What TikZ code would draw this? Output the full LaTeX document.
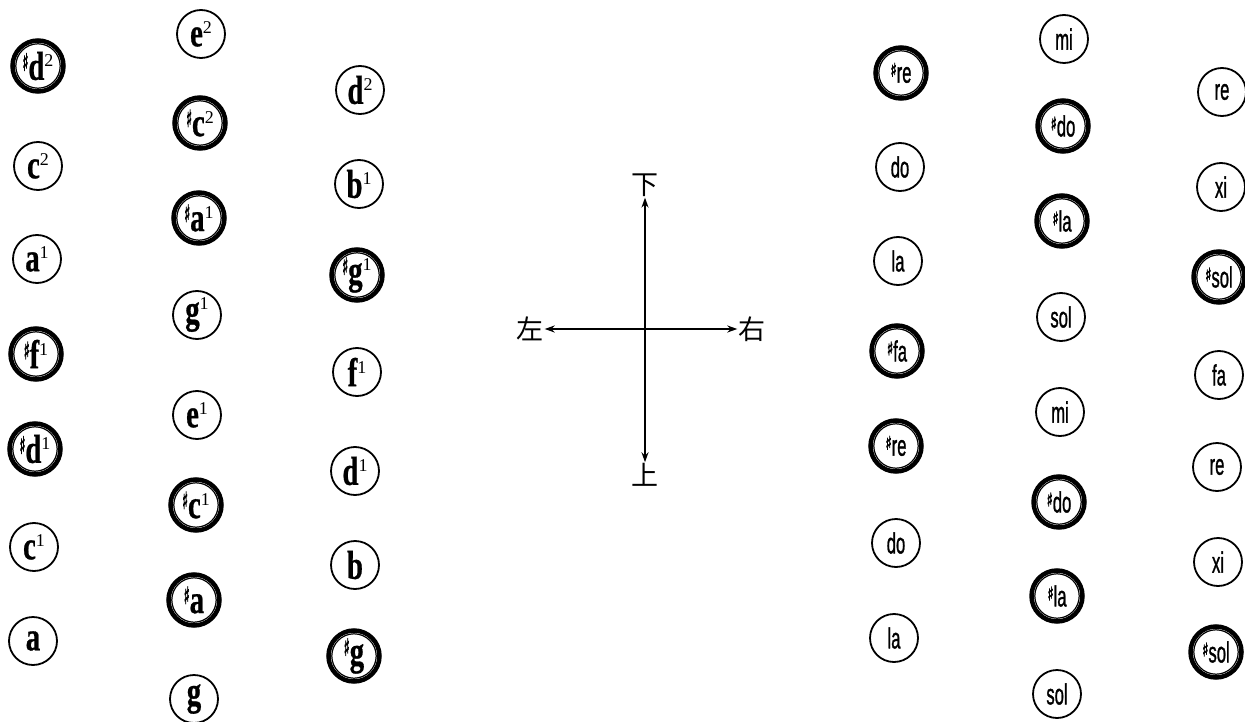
\documentclass[tikz,border=0pt]{standalone}
\usepackage{fontspec}
\setmainfont{Liberation Serif}
\newfontfamily\heavyserif{Liberation Serif}[FakeBold=0.8]
\newfontfamily\sansc{Liberation Sans}[FakeBold=1.4]
\newfontfamily\cjk{Noto Sans CJK SC}
\newfontfamily\symf{DejaVu Sans}[FakeBold=3]
\usetikzlibrary{arrows.meta}

\newcommand\octv[1]{\raisebox{13pt}{\fontsize{18}{18}\selectfont #1}}
\newcommand\lshp{\raisebox{9pt}{\scalebox{0.6}[1.2]{\symf\bfseries\fontsize{20}{20}\selectfont ♯}}}
\newcommand\lettL[1]{\scalebox{0.8}[1.12]{\heavyserif\bfseries\fontsize{36}{36}\selectfont #1}}
\newcommand\syllR[1]{\scalebox{0.64}[1.12]{\sansc\fontsize{26}{26}\selectfont #1}}
\newcommand\rshp{\raisebox{6pt}{\scalebox{0.75}[1.1]{\symf\bfseries\fontsize{17}{17}\selectfont ♯}}}

\tikzset{
  pnote/.style={circle, draw, line width=1.8pt, minimum size=48pt, inner sep=0pt},
  snote/.style={circle, draw, line width=4.5pt, minimum size=51pt, inner sep=0pt},
  sring/.style={line width=1.2pt},
  dirlab/.style={inner sep=1pt, font=\cjk\fontsize{27}{27}\selectfont},
  dirarrow/.style={line width=1.8pt, {Stealth[length=10pt,width=7pt]}-{Stealth[length=10pt,width=7pt]}}
}
\newcommand\snode[3]{\node[snote] (#1) at (#2) {#3}; \draw[sring] (#1.center) circle[radius=22.2pt];}

\begin{document}
\begin{tikzpicture}[x=1pt,y=-1pt]
\useasboundingbox (0,0) rectangle (1245,722);

% left group, column 1
\snode{Ld2s}{38,66}{\lshp\lettL{d}\octv{2}}
\node[pnote] (Lc2) at (38,166) {\lettL{c}\octv{2}};
\node[pnote] (La1) at (37,259) {\lettL{a}\octv{1}};
\snode{Lf1s}{36,354}{\lshp\lettL{f}\octv{1}}
\snode{Ld1s}{35,449}{\lshp\lettL{d}\octv{1}}
\node[pnote] (Lc1) at (34,547) {\lettL{c}\octv{1}};
\node[pnote] (La) at (33,641) {\lettL{a}};

% left group, column 2
\node[pnote] (Le2) at (201,34) {\lettL{e}\octv{2}};
\snode{Lc2s}{200,123}{\lshp\lettL{c}\octv{2}}
\snode{La1s}{199,218}{\lshp\lettL{a}\octv{1}}
\node[pnote] (Lg1) at (197,315) {\lettL{g}\octv{1}};
\node[pnote] (Le1) at (197,415) {\lettL{e}\octv{1}};
\snode{Lc1s}{196,505}{\lshp\lettL{c}\octv{1}}
\snode{Las}{194,600}{\lshp\lettL{a}}
\node[pnote] (Lg) at (194,699) {\lettL{g}};

% left group, column 3
\node[pnote] (Ld2) at (360,90) {\lettL{d}\octv{2}};
\node[pnote] (Lb1) at (359,184) {\lettL{b}\octv{1}};
\snode{Lg1s}{357,275}{\lshp\lettL{g}\octv{1}}
\node[pnote] (Lf1) at (357,372) {\lettL{f}\octv{1}};
\node[pnote] (Ld1) at (355,471) {\lettL{d}\octv{1}};
\node[pnote] (Lb) at (355,565) {\lettL{b}};
\snode{Lgs}{354,656}{\lshp\lettL{g}}

% cross
\node[dirlab] (xia) at (645,185) {下};
\node[dirlab] (shang) at (645,475) {上};
\node[dirlab] (zuo) at (530,329) {左};
\node[dirlab] (you) at (752,329) {右};
\draw[dirarrow] (xia) -- (shang);
\draw[dirarrow] (zuo) -- (you);

% right group, column 1
\snode{R1a}{901,73}{\rshp\syllR{re}}
\node[pnote] (R1b) at (900,167) {\syllR{do}};
\node[pnote] (R1c) at (898,261) {\syllR{la}};
\snode{R1d}{897,351}{\rshp\syllR{fa}}
\snode{R1e}{896,446}{\rshp\syllR{re}}
\node[pnote] (R1f) at (896,543) {\syllR{do}};
\node[pnote] (R1g) at (894,638) {\syllR{la}};

% right group, column 2
\node[pnote] (R2a) at (1064,39) {\syllR{mi}};
\snode{R2b}{1063,126}{\rshp\syllR{do}}
\snode{R2c}{1062,221}{\rshp\syllR{la}}
\node[pnote] (R2d) at (1061,317) {\syllR{sol}};
\node[pnote] (R2e) at (1060,412) {\syllR{mi}};
\snode{R2f}{1059,502}{\rshp\syllR{do}}
\snode{R2g}{1057,596}{\rshp\syllR{la}}
\node[pnote] (R2h) at (1057,694) {\syllR{sol}};

% right group, column 3
\node[pnote] (R3a) at (1222,92) {\syllR{re}};
\node[pnote] (R3b) at (1221,187) {\syllR{xi}};
\snode{R3c}{1219,277}{\rshp\syllR{sol}}
\node[pnote] (R3d) at (1219,375) {\syllR{fa}};
\node[pnote] (R3e) at (1217,467) {\syllR{re}};
\node[pnote] (R3f) at (1218,562) {\syllR{xi}};
\snode{R3g}{1216,652}{\rshp\syllR{sol}}
\end{tikzpicture}
\end{document}
